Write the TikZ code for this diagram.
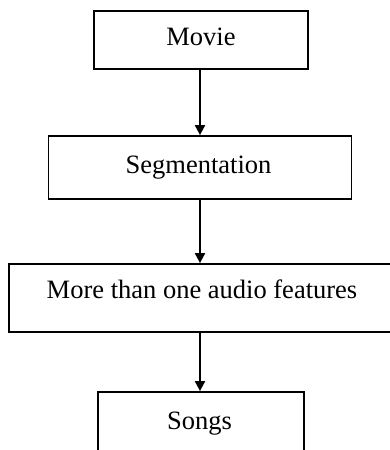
\documentclass[tikz,border=0pt]{standalone}
\usepackage{fontspec}
\setmainfont{Liberation Serif}
\usetikzlibrary{arrows.meta}
\begin{document}
\begin{tikzpicture}[x=1pt,y=-1pt,
  box/.style={draw, line width=1.8pt, inner sep=0pt},
  lbl/.style={anchor=base, inner sep=0pt, font=\fontsize{26.5}{30}\selectfont},
  arr/.style={line width=2pt, -{Triangle[length=10pt,width=10pt]}}]
\useasboundingbox (0,0) rectangle (390,450);
\clip (0,0) rectangle (390,450);
\node[box, minimum width=214pt, minimum height=58pt] (movie) at (201,40) {};
\node[box, minimum width=303pt, minimum height=63pt] (seg) at (200,167.5) {};
\node[box, minimum width=391pt, minimum height=68pt] (more) at (204.5,298) {};
\node[box, minimum width=206pt, minimum height=88pt] (songs) at (201,436) {};
\node[lbl] (tmovie) at (201,45) {Movie};
\node[lbl] (tseg) at (198.5,173) {Segmentation};
\node[lbl] (tmore) at (202,298) {More than one audio features};
\node[lbl] (tsongs) at (199.5,429) {Songs};
\draw[arr] (seg.north |- movie.south) -- (seg.north);
\draw[arr] (seg.south) -- (seg.south |- more.north);
\draw[arr] (seg.south |- more.south) -- (seg.south |- songs.north);
\end{tikzpicture}
\end{document}
